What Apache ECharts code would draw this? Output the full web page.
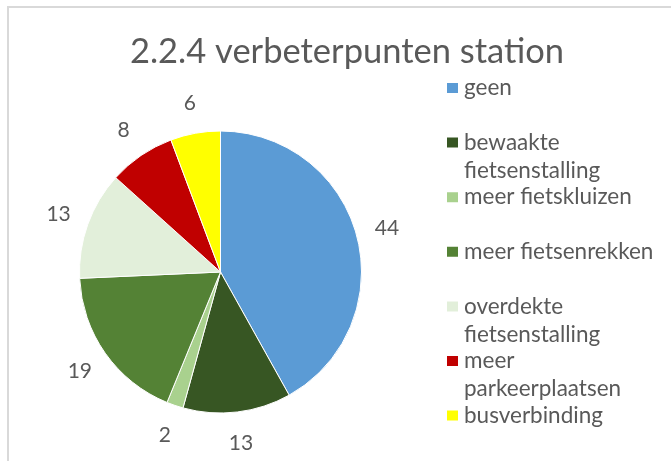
<!DOCTYPE html>
<html>
<head>
<meta charset="utf-8">
<script src="https://cdn.jsdelivr.net/npm/echarts@6/dist/echarts.min.js"></script>
<style>
html,body{margin:0;padding:0;background:#fff;}
#chart{width:671px;height:461px;}
</style>
</head>
<body>
<div id="chart"></div>
<script>
const titleText = '2.2.4 verbeterpunten station';
const categories = ['geen','bewaakte fietsenstalling','meer fietskluizen','meer fietsenrekken','overdekte fietsenstalling','meer parkeerplaatsen','busverbinding'];
const legendLabels = ['geen','bewaakte\nfietsenstalling','meer fietskluizen','meer fietsenrekken','overdekte\nfietsenstalling','meer\nparkeerplaatsen','busverbinding'];
const values = [44,13,2,19,13,8,6];
const colors = ['#5B9BD5','#375623','#A9D18E','#548235','#E2EFDA','#C00000','#FFFF00'];

const FONT = 'Lato';
const TXT = '#595959';
const LH = 28;

const legends = categories.map((name, i) => {
  const lines = legendLabels[i].split('\n').length;
  const firstLineCenter = 88 + i * 54.6;
  // for wrapped labels, add a blank leading line so the first text line sits on the icon
  const shown = lines > 1 ? ' \n' + legendLabels[i] : legendLabels[i];
  const totalLines = lines > 1 ? lines + 1 : 1;
  return {
    data: [{name: name, itemStyle: {color: colors[i]}}],
    left: 445,
    top: firstLineCenter - totalLines * LH / 2,
    orient: 'vertical',
    padding: 0,
    itemWidth: 13,
    itemHeight: 12,
    icon: 'rect',
    selectedMode: false,
    formatter: () => shown,
    textStyle: {fontFamily: FONT, fontSize: 22.5, color: TXT, lineHeight: LH}
  };
});

const pieData = categories.map((n, i) => ({name: n, value: values[i], itemStyle: {color: colors[i]}}));
const labelData = categories.map((n, i) => ({name: n, value: values[i]}));

const option = {
  backgroundColor: '#fff',
  animation: false,
  title: {
    text: titleText,
    left: 342,
    textAlign: 'center',
    top: 29,
    textStyle: {fontFamily: FONT, fontSize: 34.5, fontWeight: 'normal', color: TXT}
  },
  legend: legends,
  graphic: [{
    type: 'rect', silent: true,
    shape: {x: 8, y: 7, width: 700, height: 500},
    style: {fill: 'none', stroke: '#D9D9D9', lineWidth: 2}
  }],
  series: [{
    type: 'pie',
    center: [220.5, 272],
    radius: [0, 141],
    startAngle: 90,
    clockwise: true,
    avoidLabelOverlap: false,
    label: {show: false},
    labelLine: {show: false},
    itemStyle: {borderColor: '#fff', borderWidth: 1},
    emphasis: {disabled: true},
    data: pieData
  }, {
    type: 'pie',
    center: [220.5, 272],
    radius: [150, 188],
    startAngle: 90,
    clockwise: true,
    silent: true,
    avoidLabelOverlap: false,
    itemStyle: {color: 'rgba(0,0,0,0)', borderWidth: 0},
    label: {show: true, position: 'inside', formatter: '{c}', fontFamily: FONT, fontSize: 21, color: TXT},
    labelLine: {show: false},
    emphasis: {disabled: true},
    data: labelData
  }]
};

const chart = echarts.init(document.getElementById('chart'), null, {renderer: 'canvas'});
chart.setOption(option);
</script>
</body>
</html>
